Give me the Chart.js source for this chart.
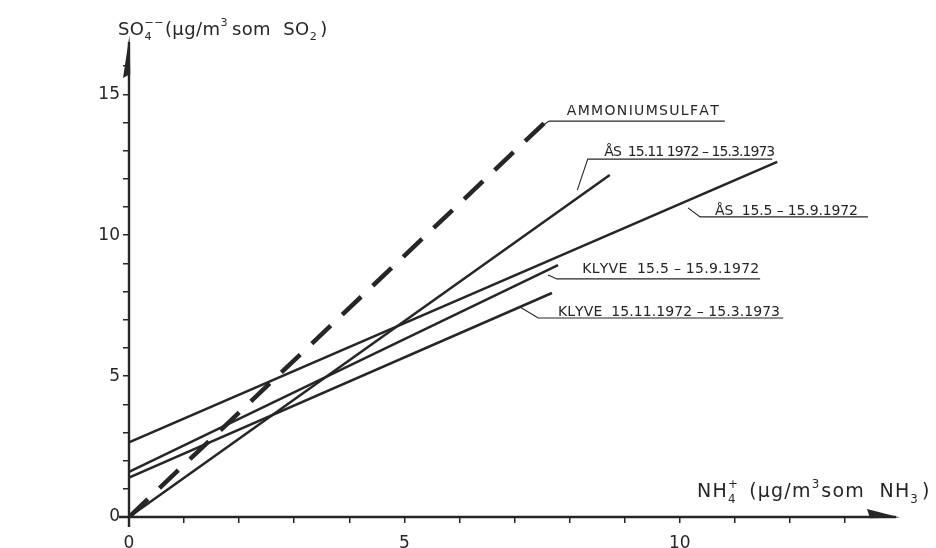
<!DOCTYPE html>
<html>
<head>
<meta charset="utf-8">
<script src="https://cdn.jsdelivr.net/npm/chart.js@4.4.0/dist/chart.umd.min.js"></script>
<style>
  html, body { margin: 0; padding: 0; background: #fff; }
  #wrap { width: 936px; height: 548px; }
</style>
</head>
<body>
<div id="wrap"><canvas id="chart" width="936" height="548"></canvas></div>
<script>
// 系列名（図中のラベル）
const seriesNames = [
  'AMMONIUMSULFAT',
  'ÅS  15.11 1972 – 15.3.1973',
  'ÅS  15.5 – 15.9.1972',
  'KLYVE  15.5 – 15.9.1972',
  'KLYVE  15.11.1972 – 15.3.1973'
];

// 各直線の始点・終点 (NH4+, SO4--)
const nh4Start = [0, 0, 0, 0, 0];
const so4Start = [0, 0, 2.65, 1.6, 1.4];
const nh4End = [7.55, 8.73, 11.77, 7.79, 7.68];
const so4End = [14.0, 12.14, 12.6, 8.94, 7.95];

// 目盛ラベル
const xTickLabels = [0, 5, 10];
const yTickLabels = [0, 5, 10, 15];

const INK = '#262626';
const FONT = '"DejaVu Sans", sans-serif';

// 引出線とラベル位置（データ座標）
const labelDefs = [
  { series: 0, leader: [[7.52, 13.91], [7.63, 14.05], [10.82, 14.05]], at: [7.95, 14.26], width: 152 },
  { series: 1, leader: [[8.14, 11.60], [8.33, 12.70], [11.68, 12.70]], at: [8.63, 12.81], width: 171 },
  { series: 2, leader: [[10.15, 10.97], [10.37, 10.65], [13.42, 10.65]], at: [10.64, 10.72], width: 143 },
  { series: 3, leader: [[7.61, 8.59], [7.77, 8.45], [11.46, 8.45]], at: [8.23, 8.66], width: 177 },
  { series: 4, leader: [[7.10, 7.45], [7.43, 7.06], [11.88, 7.06]], at: [7.79, 7.13], width: 222 }
];

// データセット作成
const datasets = seriesNames.map((name, i) => ({
  label: name,
  data: [{ x: nh4Start[i], y: so4Start[i] }, { x: nh4End[i], y: so4End[i] }],
  showLine: true,
  borderColor: INK,
  borderWidth: i === 0 ? 4.5 : 2.5,
  borderDash: i === 0 ? [26, 16] : [],
  borderCapStyle: 'butt',
  pointRadius: 0,
  fill: false
}));

// 字間を広げて描画
function drawSpaced(ctx, text, x, y, width) {
  const chars = Array.from(text);
  const raw = chars.reduce((s, c) => s + ctx.measureText(c).width, 0);
  const gap = chars.length > 1 ? (width - raw) / (chars.length - 1) : 0;
  let cx = x;
  chars.forEach(c => {
    ctx.fillText(c, cx, y);
    cx += ctx.measureText(c).width + gap;
  });
}

// 添字付きテキスト（ls = 字間）
function drawRich(ctx, parts, x, y, size, ls) {
  let cx = x;
  let lastX = x;
  parts.forEach(p => {
    const s = p.small ? size * 0.62 : size;
    ctx.font = `${s}px ${FONT}`;
    const dy = p.sub ? size * 0.3 : p.sup ? -size * 0.48 : 0;
    const start = p.stack ? lastX : cx;
    let px = start;
    Array.from(p.t).forEach(c => {
      ctx.fillText(c, px, y + dy);
      px += ctx.measureText(c).width + ls;
    });
    px += (p.gap || 0);
    if (p.stack) {
      cx = Math.max(cx, px);
    } else {
      lastX = cx;
      cx = px;
    }
  });
}

const yTitle = [
  { t: 'SO' }, { t: '4', small: true, sub: true }, { t: '−−', small: true, sup: true, stack: true, gap: 1 },
  { t: '(μg/m' }, { t: '3', small: true, sup: true, gap: 4 }, { t: 'som  SO' },
  { t: '2', small: true, sub: true, gap: 3 }, { t: ')' }
];
const xTitle = [
  { t: 'NH' }, { t: '4', small: true, sub: true }, { t: '+', small: true, sup: true, stack: true, gap: 3 },
  { t: ' (μg/m' }, { t: '3', small: true, sup: true, gap: 1 }, { t: 'som  NH' },
  { t: '3', small: true, sub: true, gap: 3 }, { t: ')' }
];

// 軸・矢印・注記
const decorPlugin = {
  id: 'decor',
  beforeDatasetsDraw(chart) {
    const { ctx, chartArea: a } = chart;
    const x0 = chart.scales.x.getPixelForValue(0);
    const y0 = chart.scales.y.getPixelForValue(0);
    ctx.save();
    ctx.strokeStyle = INK;
    ctx.fillStyle = INK;
    ctx.lineWidth = 2.4;
    ctx.beginPath();
    ctx.moveTo(x0, y0 + 10);
    ctx.lineTo(x0, a.top + 4);
    ctx.moveTo(x0 - 10, y0);
    ctx.lineTo(a.right - 4, y0);
    ctx.stroke();
    // Y矢印
    ctx.beginPath();
    ctx.moveTo(x0 + 0.5, a.top - 3);
    ctx.lineTo(x0 - 6, a.top + 40);
    ctx.lineTo(x0 + 1.3, a.top + 36);
    ctx.closePath();
    ctx.fill();
    // X矢印
    ctx.beginPath();
    ctx.moveTo(a.right, y0 + 0.5);
    ctx.lineTo(a.right - 33, y0 - 8);
    ctx.lineTo(a.right - 30, y0 + 1.3);
    ctx.closePath();
    ctx.fill();
    ctx.restore();
  },
  afterDraw(chart) {
    const { ctx } = chart;
    const sx = chart.scales.x;
    const sy = chart.scales.y;
    ctx.save();
    ctx.fillStyle = INK;
    ctx.strokeStyle = INK;
    ctx.textBaseline = 'alphabetic';
    ctx.textAlign = 'left';
    // 軸タイトル
    drawRich(ctx, yTitle, 118, 35, 18, 0.4);
    drawRich(ctx, xTitle, 697, 497, 19, 1.2);
    // 系列ラベル
    labelDefs.forEach(d => {
      ctx.lineWidth = 1.1;
      ctx.beginPath();
      d.leader.forEach((p, k) => {
        const px = sx.getPixelForValue(p[0]);
        const py = sy.getPixelForValue(p[1]);
        if (k === 0) ctx.moveTo(px, py); else ctx.lineTo(px, py);
      });
      ctx.stroke();
      ctx.font = `14px ${FONT}`;
      drawSpaced(ctx, seriesNames[d.series], sx.getPixelForValue(d.at[0]), sy.getPixelForValue(d.at[1]), d.width);
    });
    ctx.restore();
  }
};

new Chart(document.getElementById('chart'), {
  type: 'scatter',
  data: { datasets },
  plugins: [decorPlugin],
  options: {
    responsive: false,
    animation: false,
    layout: { padding: { top: 38, right: 36, left: 0, bottom: 0 } },
    plugins: { legend: { display: false }, tooltip: { enabled: false } },
    scales: {
      x: {
        type: 'linear', min: 0, max: 14,
        border: { display: false },
        grid: {
          drawOnChartArea: false, drawTicks: true, tickLength: 6, lineWidth: 1.5,
          color: c => (c.tick && c.tick.value > 13 ? 'rgba(0,0,0,0)' : INK)
        },
        ticks: {
          stepSize: 1, autoSkip: false, maxRotation: 0, padding: 10, color: INK,
          font: { family: FONT, size: 17 },
          callback: v => (xTickLabels.includes(v) ? String(v) : '')
        },
        afterFit: s => { s.height = 31; }
      },
      y: {
        type: 'linear', min: 0, max: 17,
        border: { display: false },
        grid: {
          drawOnChartArea: false, drawTicks: true, tickLength: 6, lineWidth: 1.5,
          color: c => (c.tick && c.tick.value > 16 ? 'rgba(0,0,0,0)' : INK)
        },
        ticks: {
          stepSize: 1, autoSkip: false, padding: 3, color: INK,
          font: { family: FONT, size: 17 },
          callback: v => (yTickLabels.includes(v) ? String(v) : '')
        },
        afterFit: s => { s.width = 129; }
      }
    }
  }
});
</script>
</body>
</html>
